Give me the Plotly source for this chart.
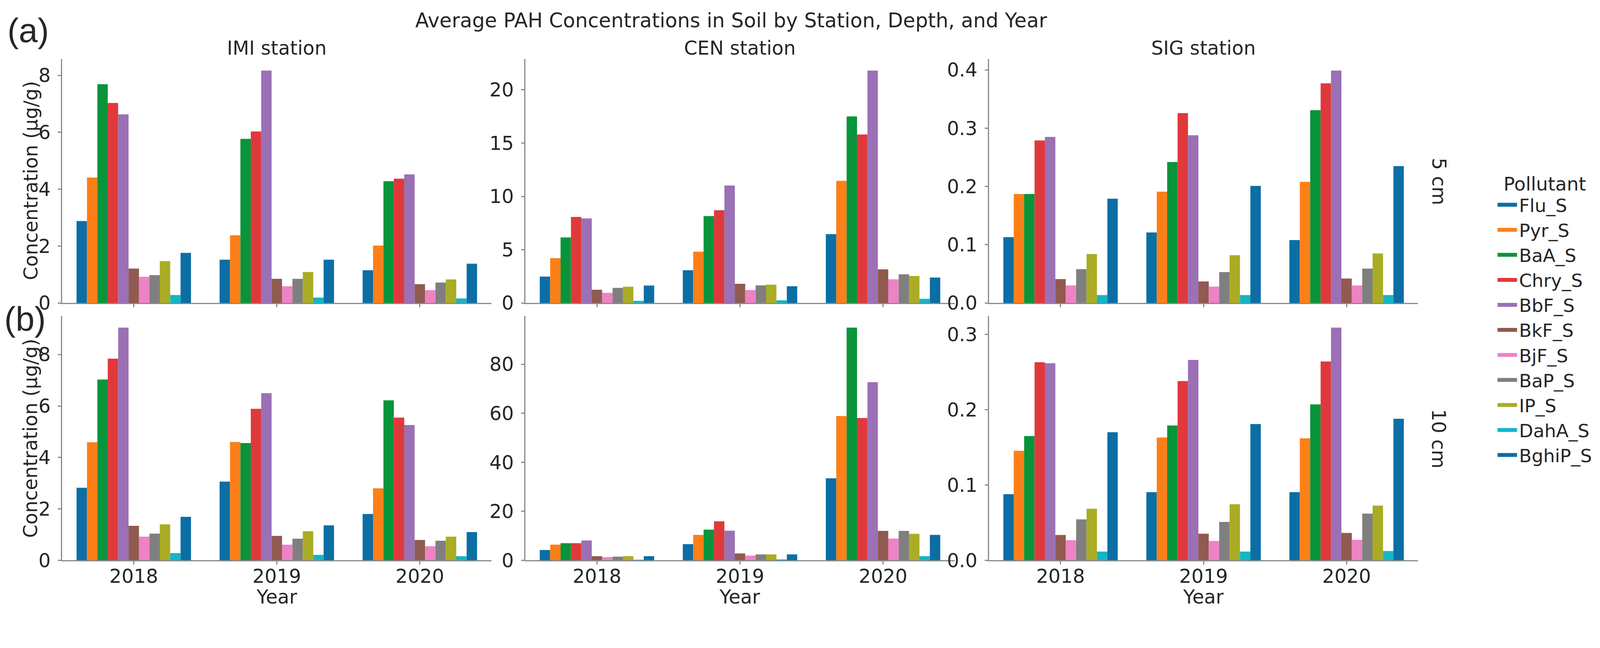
import plotly.graph_objects as go
from plotly.subplots import make_subplots

years = ["2018", "2019", "2020"]
pollutants = ["Flu_S", "Pyr_S", "BaA_S", "Chry_S", "BbF_S", "BkF_S",
              "BjF_S", "BaP_S", "IP_S", "DahA_S", "BghiP_S"]
colors = ["#0b6ea5", "#fd7f18", "#08943a", "#df393c", "#9b70b5", "#905a50",
          "#ee82c6", "#7f7f7f", "#aaac24", "#14b5c8", "#0b6ea5"]
stations = ["IMI station", "CEN station", "SIG station"]
depths = ["5 cm", "10 cm"]

# mean concentration (ug/g), one value per pollutant in the order above
imi_5_2018 = [2.88, 4.41, 7.69, 7.03, 6.63, 1.21, 0.92, 0.98, 1.47, 0.28, 1.76]
imi_5_2019 = [1.52, 2.38, 5.77, 6.03, 8.17, 0.85, 0.59, 0.85, 1.09, 0.19, 1.52]
imi_5_2020 = [1.15, 2.02, 4.28, 4.37, 4.52, 0.66, 0.45, 0.72, 0.83, 0.16, 1.38]

imi_10_2018 = [2.82, 4.59, 7.03, 7.84, 9.05, 1.34, 0.92, 1.04, 1.40, 0.28, 1.69]
imi_10_2019 = [3.06, 4.60, 4.56, 5.89, 6.50, 0.95, 0.61, 0.84, 1.13, 0.21, 1.36]
imi_10_2020 = [1.80, 2.80, 6.22, 5.55, 5.26, 0.79, 0.55, 0.76, 0.92, 0.16, 1.10]

cen_5_2018 = [2.48, 4.21, 6.15, 8.07, 7.93, 1.24, 0.95, 1.41, 1.52, 0.20, 1.63]
cen_5_2019 = [3.07, 4.81, 8.15, 8.70, 11.02, 1.80, 1.21, 1.65, 1.72, 0.25, 1.57]
cen_5_2020 = [6.46, 11.46, 17.5, 15.8, 21.8, 3.15, 2.22, 2.69, 2.53, 0.39, 2.38]

cen_10_2018 = [4.2, 6.4, 7.0, 7.0, 8.1, 1.7, 1.3, 1.5, 1.7, 0.25, 1.7]
cen_10_2019 = [6.6, 10.4, 12.55, 15.9, 12.1, 2.8, 1.95, 2.4, 2.4, 0.4, 2.4]
cen_10_2020 = [33.5, 58.9, 95.0, 58.1, 72.7, 12.0, 8.9, 12.0, 10.8, 1.7, 10.4]

sig_5_2018 = [0.113, 0.187, 0.187, 0.279, 0.285, 0.041, 0.030, 0.058, 0.084, 0.0136, 0.179]
sig_5_2019 = [0.121, 0.191, 0.242, 0.326, 0.288, 0.037, 0.028, 0.053, 0.082, 0.0136, 0.201]
sig_5_2020 = [0.108, 0.208, 0.331, 0.377, 0.399, 0.042, 0.030, 0.059, 0.085, 0.0136, 0.235]

sig_10_2018 = [0.0878, 0.1455, 0.165, 0.263, 0.2617, 0.0337, 0.0268, 0.0544, 0.0685, 0.0116, 0.170]
sig_10_2019 = [0.0905, 0.163, 0.179, 0.238, 0.266, 0.0353, 0.0257, 0.051, 0.0745, 0.0116, 0.181]
sig_10_2020 = [0.0905, 0.162, 0.207, 0.264, 0.309, 0.0364, 0.0273, 0.062, 0.0726, 0.0124, 0.188]

panels = [
    [(imi_5_2018, imi_5_2019, imi_5_2020),
     (cen_5_2018, cen_5_2019, cen_5_2020),
     (sig_5_2018, sig_5_2019, sig_5_2020)],
    [(imi_10_2018, imi_10_2019, imi_10_2020),
     (cen_10_2018, cen_10_2019, cen_10_2020),
     (sig_10_2018, sig_10_2019, sig_10_2020)],
]
ydticks = [[2, 5, 0.1], [2, 20, 0.1]]
yformats = [["d", "d", ".1f"], ["d", "d", ".1f"]]

# layout is measured in reference pixels and mapped to css pixels of the page
# (the photo shows about 4100 x 1604 css px; body has an 8px margin)
SX = 4100 / 4322
SY = 1604 / 1660
OFF = 8
W = round(4322 * SX) - 2 * OFF
H = round(1660 * SY) - 2 * OFF
FONT = "DejaVu Sans"
TXT = "#262626"
SPINE = "#8a8a8a"
FS = round(52 * SX)


def px(x):
    return (x * SX - OFF) / W


def py(y):
    return 1 - (y * SY - OFF) / H


fig = make_subplots(rows=2, cols=3)

for r in range(2):
    for c in range(3):
        groups = panels[r][c]
        for j, name in enumerate(pollutants):
            fig.add_trace(go.Bar(
                x=years,
                y=[g[j] for g in groups],
                name=name,
                marker=dict(color=colors[j], line=dict(width=0)),
                showlegend=False,
                legendgroup=name,
            ), row=r + 1, col=c + 1)

# legend entries drawn as thick lines like the original
for j, name in enumerate(pollutants):
    fig.add_trace(go.Scatter(
        x=[None], y=[None], mode="lines", name=name,
        line=dict(color=colors[j], width=10),
        legendgroup=name, showlegend=True,
    ), row=1, col=1)

# pixel layout of the panels (reference pixels)
col_px = [(168, 1326), (1418, 2576), (2669, 3827)]
row_px = [(159, 818), (853, 1513)]

for r in range(2):
    for c in range(3):
        n = r * 3 + c + 1
        sfx = "" if n == 1 else str(n)
        x0, x1 = col_px[c]
        y0, y1 = row_px[r]
        ymax = max(max(g) for g in panels[r][c]) * 1.05
        fig.layout["xaxis" + sfx].update(
            domain=[px(x0), px(x1)],
            type="category", range=[-0.5, 2.5],
            showline=True, linecolor=SPINE, linewidth=3,
            ticks="outside", ticklen=8, tickwidth=3, tickcolor=SPINE,
            ticklabelstandoff=-12,
            showgrid=False, zeroline=False,
            showticklabels=(r == 1),
            tickfont=dict(family=FONT, size=FS, color=TXT),
        )
        fig.layout["yaxis" + sfx].update(
            domain=[py(y1), py(y0)],
            range=[0, ymax],
            dtick=ydticks[r][c], tick0=0, tickformat=yformats[r][c],
            showline=True, linecolor=SPINE, linewidth=3,
            ticks="outside", ticklen=8, tickwidth=3, tickcolor=SPINE,
            ticklabelstandoff=9,
            showgrid=False, zeroline=False,
            tickfont=dict(family=FONT, size=FS, color=TXT),
        )

ann = []


def label(text, x, y, size=FS, angle=0, family=FONT):
    ann.append(dict(text=text, x=px(x), y=py(y), xref="paper", yref="paper",
                    showarrow=False, textangle=angle, xanchor="center", yanchor="middle",
                    font=dict(family=family, size=size, color=TXT)))


label("Average PAH Concentrations in Soil by Station, Depth, and Year", 1973, 55, size=FS + 2)
for c, st in enumerate(stations):
    label(st, (col_px[c][0] + col_px[c][1]) / 2, 130)
    label("Year", (col_px[c][0] + col_px[c][1]) / 2, 1612)
label(depths[0], 3882, 490, angle=90)
label(depths[1], 3882, 1185, angle=90)
label("Concentration (µg/g)", 83, 488, angle=-90)
label("Concentration (µg/g)", 83, 1184, angle=-90)
label("(a)", 76, 82, size=round(92 * SX), family="Liberation Sans Narrow, Liberation Sans")
label("(b)", 67, 861, size=round(92 * SX), family="Liberation Sans Narrow, Liberation Sans")

LFS = 47
fig.update_layout(
    width=W, height=H,
    margin=dict(l=0, r=0, t=0, b=0),
    paper_bgcolor="white", plot_bgcolor="white",
    barmode="group", bargap=0.2, bargroupgap=0,
    annotations=ann,
    legend=dict(
        x=px(4036), y=py(448), xanchor="left", yanchor="top",
        title=dict(text="Pollutant", side="top center",
                   font=dict(family=FONT, size=LFS + 1, color=TXT)),
        font=dict(family=FONT, size=LFS, color=TXT),
        itemwidth=50, tracegroupgap=0, bgcolor="rgba(0,0,0,0)",
    ),
    font=dict(family=FONT, size=FS, color=TXT),
)

fig.write_html("out.html")
